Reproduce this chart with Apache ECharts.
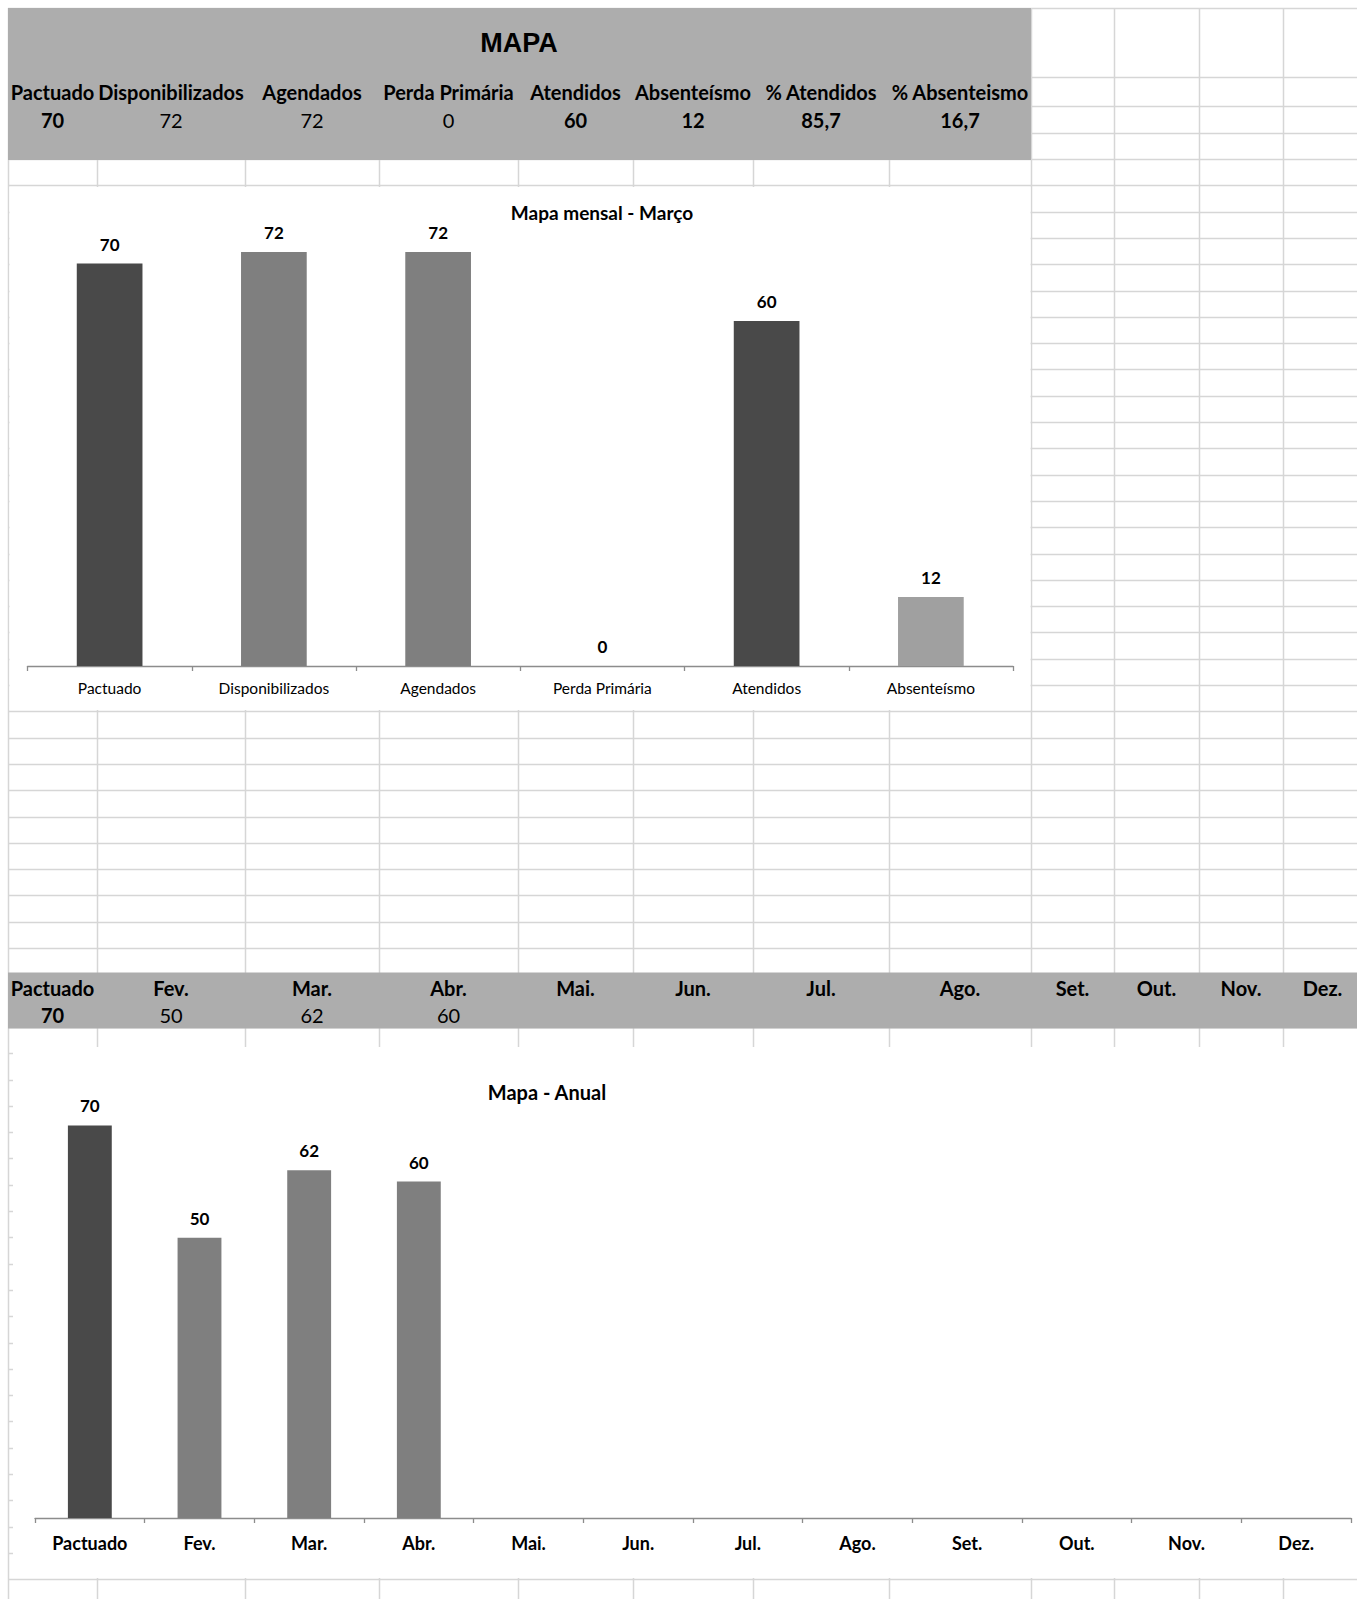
<!DOCTYPE html>
<html><head><meta charset="utf-8">
<script src="https://cdn.jsdelivr.net/npm/echarts@6/dist/echarts.min.js"></script>
<style>html,body{margin:0;padding:0;background:#fff;}#c{width:1357px;height:1599px;}</style>
</head><body><div id="c"></div>
<script>
// ---------- data ----------
const summaryLabels = ['Pactuado','Disponibilizados','Agendados','Perda Primária','Atendidos','Absenteísmo','% Atendidos','% Absenteismo'];
const summaryValues = ['70','72','72','0','60','12','85,7','16,7'];
const monthlyCategories = ['Pactuado','Disponibilizados','Agendados','Perda Primária','Atendidos','Absenteísmo'];
const monthlyValues = [70, 72, 72, 0, 60, 12];
const annualCategories = ['Pactuado','Fev.','Mar.','Abr.','Mai.','Jun.','Jul.','Ago.','Set.','Out.','Nov.','Dez.'];
const annualValues = [70, 50, 62, 60, null, null, null, null, null, null, null, null];
const annualBandValues = ['70','50','62','60','','','','','','','',''];
const titleMain = 'MAPA';
const titleMonthly = 'Mapa mensal - Março';
const titleAnnual = 'Mapa - Anual';

// ---------- styles / layout ----------
const summaryBold = [true,false,false,false,true,true,true,true];
const bandValueBold = [true,false,false,false,false,false,false,false,false,false,false,false];
const monthlyColors = ['#494949','#7f7f7f','#7f7f7f','#7f7f7f','#494949','#a0a0a0'];
const annualColors = ['#494949','#7f7f7f','#7f7f7f','#7f7f7f','#7f7f7f','#7f7f7f','#7f7f7f','#7f7f7f','#7f7f7f','#7f7f7f','#7f7f7f','#7f7f7f'];
const FONT = 'Lato, "Open Sans", sans-serif';
const colX = [8, 97, 245, 379, 518, 633, 753, 889, 1031, 1114, 1199, 1283, 1362];
const rowY = [8, 76.5, 106, 132.5];
for (let k = 0; 159 + 26.3 * k < 1599; k++) rowY.push(159 + 26.3 * k);
const GRID = '#d6d6d6';
const GREY = '#adadad';

const graphics = [];
graphics.push({type:'rect', z:-20, shape:{x:0,y:0,width:1357,height:1599}, style:{fill:'#fff'}});
colX.forEach(x => graphics.push({type:'line', z:-15, shape:{x1:Math.round(x)+0.5,y1:8,x2:Math.round(x)+0.5,y2:1599}, style:{stroke:GRID,lineWidth:1.5}}));
rowY.forEach(y => graphics.push({type:'line', z:-15, shape:{x1:8,y1:Math.round(y)+0.5,x2:1357,y2:Math.round(y)+0.5}, style:{stroke:GRID,lineWidth:1.5}}));
// chart areas (white)
graphics.push({type:'rect', z:-12, shape:{x:9.5,y:187,width:1021,height:523}, style:{fill:'#fff'}});
graphics.push({type:'rect', z:-12, shape:{x:13,y:1047,width:1344,height:531}, style:{fill:'#fff'}});
// grey header blocks
graphics.push({type:'rect', z:-10, shape:{x:8,y:8,width:1023,height:152}, style:{fill:GREY}});
graphics.push({type:'rect', z:-10, shape:{x:8,y:972.5,width:1349,height:56}, style:{fill:GREY}});

function txt(text, x, y, font) {
  return {type:'text', z:-5, style:{text:text, x:x, y:y, font:font, fill:'#000',
    textAlign:'center', textVerticalAlign:'middle', align:'center', verticalAlign:'middle'}};
}
graphics.push(txt(titleMain, 519, 43, 'bold 27px "Liberation Sans", Arial, sans-serif'));
summaryLabels.forEach((s, i) => {
  const cx = (colX[i] + colX[i+1]) / 2;
  graphics.push(txt(s, cx, 92, 'bold 20px ' + FONT));
  graphics.push(txt(summaryValues[i], cx, 120, (summaryBold[i] ? 'bold ' : '') + '20px ' + FONT));
});
annualCategories.forEach((s, i) => {
  const cx = (colX[i] + colX[i+1]) / 2;
  graphics.push(txt(s, cx, 988, 'bold 20px ' + FONT));
  graphics.push(txt(annualBandValues[i], cx, 1015, (bandValueBold[i] ? 'bold ' : '') + '20px ' + FONT));
});
graphics.push(txt(titleMonthly, 602, 212, 'bold 19px ' + FONT));
graphics.push(txt(titleAnnual, 547, 1092, 'bold 20px ' + FONT));

const axisCommon = {
  type:'category',
  axisLine:{show:true, lineStyle:{color:'#8c8c8c', width:1.3}},
  axisTick:{show:true, length:5, lineStyle:{color:'#8c8c8c', width:1.3}},
  splitLine:{show:false}
};
const labelCommon = {show:true, position:'top', distance:11, color:'#000', fontFamily:FONT, fontWeight:'bold', fontSize:17};

const chart = echarts.init(document.getElementById('c'), null, {renderer:'svg', width:1357, height:1599});
chart.setOption({
  animation:false,
  graphic:{elements:graphics},
  grid:[
    {left:27.5, top:206, width:985.5, height:460},
    {left:35, top:1069.4, width:1316, height:448.6}
  ],
  xAxis:[
    Object.assign({}, axisCommon, {gridIndex:0, data:monthlyCategories,
      axisLabel:{margin:14, color:'#000', fontFamily:FONT, fontSize:15.5, interval:0}}),
    Object.assign({}, axisCommon, {gridIndex:1, data:annualCategories,
      axisLabel:{margin:16, color:'#000', fontFamily:FONT, fontSize:18, fontWeight:'bold', interval:0}})
  ],
  yAxis:[
    {type:'value', gridIndex:0, min:0, max:80, show:false},
    {type:'value', gridIndex:1, min:0, max:80, show:false}
  ],
  series:[
    {type:'bar', xAxisIndex:0, yAxisIndex:0, data:monthlyValues, barWidth:'40%',
      itemStyle:{color:p => monthlyColors[p.dataIndex]}, label:labelCommon},
    {type:'bar', xAxisIndex:1, yAxisIndex:1, data:annualValues, barWidth:'40%',
      itemStyle:{color:p => annualColors[p.dataIndex]}, label:labelCommon}
  ]
});
</script></body></html>
